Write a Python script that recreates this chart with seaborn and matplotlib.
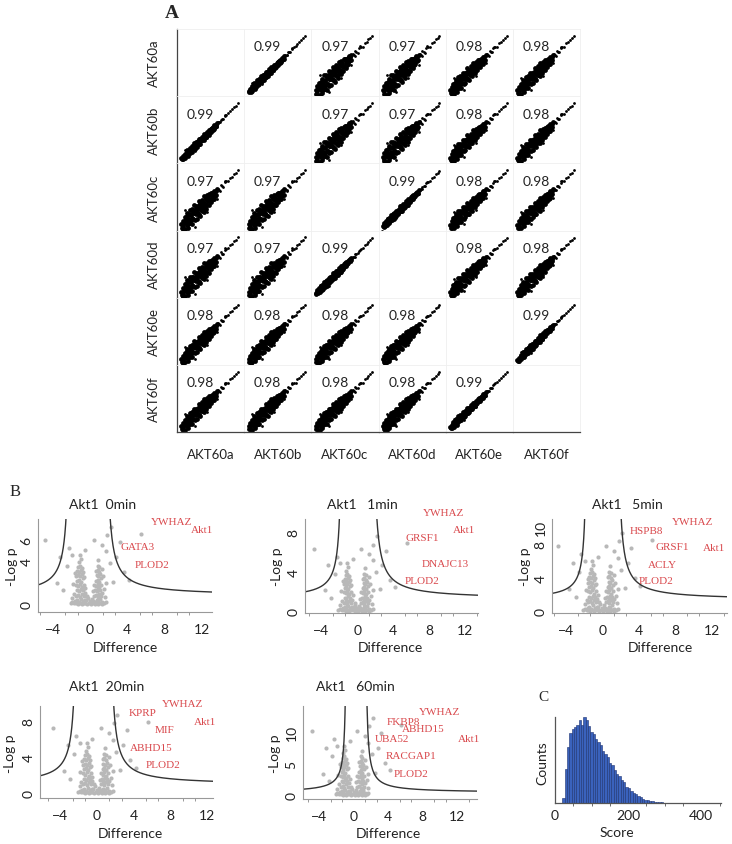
import numpy as np
import pandas as pd
import seaborn as sns
import matplotlib.pyplot as plt
from matplotlib.ticker import AutoMinorLocator

sns.set_style('white')
plt.rcParams['font.family'] = ['Lato', 'DejaVu Sans']

W, H = 732, 845


def box(l, t, r, b):
    return [l / W, 1 - b / H, (r - l) / W, (b - t) / H]


def px(x, y):
    return x / W, 1 - y / H


# ---------------- panel A data ----------------
samples = ['AKT60a', 'AKT60b', 'AKT60c', 'AKT60d', 'AKT60e', 'AKT60f']
corr = [
    [None, 0.99, 0.97, 0.97, 0.98, 0.98],
    [0.99, None, 0.97, 0.97, 0.98, 0.98],
    [0.97, 0.97, None, 0.99, 0.98, 0.98],
    [0.97, 0.97, 0.99, None, 0.98, 0.98],
    [0.98, 0.98, 0.98, 0.98, None, 0.99],
    [0.98, 0.98, 0.98, 0.98, 0.99, None],
]
# replicate intensities: position along the diagonal and offset from it
cloud_x = [0.4, 0.5, 0.6, 0.7, 0.8, 0.9, 1.0, 1.1, 1.2, 1.3, 1.4, 1.5, 1.6, 1.7, 1.8, 1.9,
           2.0, 2.1, 2.2, 2.3, 2.4, 2.5, 2.6, 2.7, 2.8, 2.9, 3.0, 3.1, 3.2, 3.3, 3.4, 3.5,
           3.6, 3.7, 3.8, 3.9, 4.0, 4.1, 4.2, 4.3, 4.4, 4.5, 4.6, 4.7, 4.8, 4.9, 5.0, 5.1,
           5.2, 5.3, 5.4, 5.5, 5.6, 5.7, 5.8, 5.9, 6.0,
           0.6, 0.9, 1.2, 1.5, 1.8, 2.1, 2.4, 2.7, 3.0, 3.3, 3.6, 3.9, 4.2, 4.5, 4.8, 5.1, 5.4,
           1.0, 1.6, 2.2, 2.8, 3.4, 4.0, 4.6, 5.2, 1.3, 1.9, 2.5, 3.1, 3.7, 4.3]
cloud_dev = [0.2, -0.3, 0.5, -0.6, 0.1, 0.7, -0.8, 0.3, -0.4, 0.9, -0.9, 0.5, -0.2, 1.0, -0.7, 0.2,
             0.8, -1.0, 0.4, -0.5, 1.0, -0.8, 0.0, 0.7, -0.9, 0.3, -0.4, 1.0, -0.7, 0.6, -1.0, 0.2,
             0.8, -0.6, 0.4, -0.9, 0.9, -0.3, 0.5, -0.8, 0.7, -0.5, 0.3, -0.7, 0.6, -0.2, 0.5, -0.6,
             0.4, -0.4, 0.3, -0.5, 0.4, -0.3, 0.2, -0.3, 0.3,
             -0.1, 0.3, 0.6, -0.6, 0.4, -0.3, 0.1, -0.2, 0.5, -0.1, -0.4, 0.2, -0.2, 0.1, -0.3, 0.2, 0.0,
             0.0, 0.0, 0.6, 0.1, 0.3, -0.5, 0.0, -0.1, -0.2, -0.4, 0.4, -0.6, 0.0, 0.3]
tail_x = [6.2, 6.4, 6.6, 6.8, 7.0, 7.2, 7.5, 7.8, 8.1, 8.4, 8.7, 9.0, 9.3, 6.5, 7.3,
          0.3, 1.0, 2.5, 4.4, 6.0]
tail_dev = [0.2, -0.1, 0.3, 0.0, -0.2, 0.2, 0.1, -0.1, 0.1, 0.0, 0.1, 0.0, 0.1, -0.3, 0.3,
            -1.4, 1.5, -1.6, -1.3, -0.9]
spread = {0.97: 1.3, 0.98: 1.05, 0.99: 0.5}

# ---------------- panel B data ----------------
vol_x = [-1.6, -1.4, -1.2, -1.0, -0.8, -0.6, -1.5, -1.3, -1.1, -0.9, -0.7, -1.4, -1.2, -1.0, -0.8, -0.6,
         -1.5, -1.3, -1.1, -0.9, -0.7, -1.4, -1.2, -1.0, -0.8, -1.3, -1.1, -0.9, -0.7, -1.4, -1.2, -1.0,
         -1.3, -1.1, -0.9, -1.2, -1.0, -1.5, -0.8, -1.7, -1.9, -1.8, -1.6, -0.5, -1.1,
         0.3, 0.5, 0.7, 0.9, 1.1, 1.3, 0.4, 0.6, 0.8, 1.0, 1.2, 0.5, 0.7, 0.9, 1.1, 1.3,
         0.4, 0.6, 0.8, 1.0, 1.2, 0.6, 0.8, 1.0, 1.2, 0.7, 0.9, 1.1, 0.6, 0.8, 1.0, 0.8, 1.0,
         1.4, 1.5, 1.6, 0.3, 1.7, 0.9, 1.3,
         -2.1, -1.9, -1.7, -1.5, -1.3, -1.1, -0.9, -0.7, -0.5, -0.3, -0.1, 0.1, 0.3, 0.5, 0.7,
         0.9, 1.1, 1.3, 1.5, 1.7, -0.4, -0.2, 0.0, 0.2, -0.3,
         -3.6, -2.5, -4.8, -2.3, -2.9, -3.2, 1.8, 2.2, 1.7, 2.8, 3.6, 2.5, 3.2, 4.2, 2.1,
         -1.9, 1.3, -0.5, 0.4, 5.5]
vol_y = [0.3, 0.4, 0.2, 0.5, 0.3, 0.4, 0.8, 0.9, 0.7, 1.0, 0.8, 1.3, 1.2, 1.4, 1.3, 1.1,
         1.8, 1.7, 1.9, 1.6, 1.8, 2.2, 2.3, 2.1, 2.4, 2.7, 2.6, 2.8, 2.5, 3.1, 3.0, 3.2,
         3.5, 3.6, 3.4, 3.9, 4.2, 2.6, 3.0, 1.0, 0.6, 1.9, 2.9, 1.5, 4.6,
         0.3, 0.2, 0.4, 0.3, 0.5, 0.2, 0.8, 0.9, 0.7, 1.0, 0.8, 1.3, 1.2, 1.4, 1.3, 1.1,
         1.8, 1.7, 1.9, 1.6, 1.8, 2.2, 2.3, 2.1, 2.4, 2.7, 2.6, 2.8, 3.1, 3.2, 3.0, 3.6, 3.5,
         2.6, 1.4, 0.7, 1.2, 2.0, 4.1, 3.3,
         0.1, 0.2, 0.1, 0.1, 0.0, 0.1, 0.0, 0.1, 0.1, 0.0, 0.1, 0.0, 0.1, 0.0, 0.1,
         0.0, 0.1, 0.0, 0.1, 0.2, 0.4, 0.6, 0.3, 0.5, 0.8,
         2.0, 3.6, 6.0, 5.2, 1.3, 4.4, 6.4, 7.2, 4.9, 4.4, 3.0, 2.1, 5.8, 2.3, 3.8,
         4.6, 5.5, 5.0, 6.0, 6.5]

times = ['0min', '1min', '5min', '20min', '60min']
titles = ['Akt1  0min', 'Akt1   1min', 'Akt1   5min', 'Akt1  20min', 'Akt1   60min']
cloud_scale = [1.0, 1.05, 1.3, 1.2, 1.7]
xlims = [(-5.6, 13.1), (-5.8, 13.4), (-5.5, 13.7), (-6.2, 12.6), (-5.9, 14.3)]
ylims = [(-0.7, 7.9), (-0.2, 9.3), (-0.25, 11.0), (-0.55, 9.6), (-0.6, 14.1)]
yticks = [[0, 2, 4, 6], [0, 4, 8], [0, 4, 8, 10], [0, 4, 8], [0, 5, 10]]
# threshold curve: left asymptote, left scale, right asymptote, right scale, offset
curves = [(-2.1, 3.5, 1.6, 4.0, 0.8),
          (-1.6, 3.1, 1.6, 4.7, 1.2),
          (-1.6, 3.1, 1.6, 4.8, 1.3),
          (-2.1, 4.1, 1.3, 4.5, 0.9),
          (-0.8, 2.8, 1.3, 3.2, 0.4)]
hit_names = [['YWHAZ', 'Akt1', 'GATA3', 'PLOD2'],
             ['YWHAZ', 'Akt1', 'GRSF1', 'DNAJC13', 'PLOD2'],
             ['YWHAZ', 'HSPB8', 'GRSF1', 'Akt1', 'ACLY', 'PLOD2'],
             ['YWHAZ', 'KPRP', 'Akt1', 'MIF', 'ABHD15', 'PLOD2'],
             ['YWHAZ', 'FKBP8', 'ABHD15', 'UBA52', 'Akt1', 'RACGAP1', 'PLOD2']]
hit_x = [[8.8, 12.0, 5.05, 6.7],
         [9.6, 11.9, 7.2, 9.8, 7.2],
         [9.9, 4.9, 7.7, 12.3, 6.6, 5.9],
         [9.3, 5.0, 11.7, 7.3, 5.9, 7.2],
         [10.0, 5.7, 8.1, 4.4, 13.4, 6.7, 6.7]]
hit_y = [[7.7, 6.9, 5.4, 3.7],
         [10.0, 8.2, 7.4, 4.8, 3.1],
         [10.7, 9.6, 7.7, 7.6, 5.6, 3.6],
         [9.9, 8.9, 7.9, 7.0, 5.05, 3.2],
         [13.2, 11.7, 10.5, 9.0, 9.0, 6.2, 3.5]]

# ---------------- panel C data ----------------
score_start, score_width = 20, 6.4
score_counts = [60, 400, 650, 810, 860, 880, 910, 960, 910, 1000,
                960, 890, 820, 800, 750, 710, 670, 610, 570, 530,
                470, 440, 380, 340, 310, 270, 240, 190, 170, 140,
                120, 100, 80, 65, 50, 40, 30, 25, 20, 15,
                10, 8, 6, 5, 4, 3, 3, 2, 2, 1]

fig = plt.figure(figsize=(W / 100, H / 100), dpi=100)

# ---------------- panel A ----------------
cell = 67.2
a_left, a_top = 177, 30
for i in range(6):
    for j in range(6):
        l = a_left + j * cell
        t = a_top + i * cell
        ax = fig.add_axes(box(l, t, l + cell, t + cell))
        ax.set_xlim(-0.3, 10.3)
        ax.set_ylim(0, 10.3)
        r = corr[i][j]
        if r is not None:
            cx = np.array(cloud_x)
            cy = 0.3 + 0.95 * cx + np.array(cloud_dev) * spread[r]
            sns.scatterplot(x=cx, y=cy, color='black', s=12, linewidth=0, ax=ax, legend=False)
            tx = np.array(tail_x)
            ty = 0.3 + 0.95 * tx + np.array(tail_dev) * spread[r]
            sns.scatterplot(x=tx, y=ty, color='black', s=4, linewidth=0, ax=ax, legend=False)
            ax.text(0.35, 0.74, f'{r:.2f}', transform=ax.transAxes, ha='center', va='center',
                    fontsize=10, color='#222222')
        ax.set_xlabel('')
        ax.set_ylabel('')
        for s in ax.spines.values():
            s.set_color('#efefef')
            s.set_linewidth(0.6)
        ax.set_xticks([])
        ax.set_yticks([])
        if j == 0:
            ax.spines['left'].set_color('#444444')
            ax.spines['left'].set_linewidth(0.9)
            ax.set_yticks([1.25, 3.75, 6.25, 8.75])
            ax.set_yticklabels([])
            ax.tick_params(axis='y', length=3, width=0.6, color='#444444', direction='out')
            ax.set_ylabel(samples[i], fontsize=9.5, color='#222222', labelpad=6)
        if i == 5:
            ax.spines['bottom'].set_color('#444444')
            ax.spines['bottom'].set_linewidth(0.9)
            ax.set_xticks([0.9, 2.6, 4.3, 6.0, 7.7, 9.4])
            ax.set_xticklabels([])
            ax.tick_params(axis='x', length=3, width=0.6, color='#444444', direction='out')
            ax.set_xlabel(samples[j], fontsize=9.5, color='#222222', labelpad=5)

fig.text(*px(172, 14), 'A', family=['Liberation Serif'], fontsize=14, fontweight='bold',
         ha='center', va='center')

# ---------------- panel B ----------------
rects = [(38, 520, 212, 613), (305, 520, 478, 614), (552, 520, 727, 614),
         (40, 707, 213, 799), (303, 707, 477, 800)]
title_pos = [(103, 505), (362, 505), (627, 505), (107, 687), (355, 687)]
xlab_pos = [(125, 648), (390, 648), (660, 648), (130, 834), (388, 834)]
ylab_pos = [(12, 567), (277, 567), (525, 567), (10, 754), (275, 754)]

for k in range(5):
    l, t, r, b = rects[k]
    ax = fig.add_axes(box(l, t, r, b))
    sns.scatterplot(x=vol_x, y=np.array(vol_y) * cloud_scale[k], color='#b8b8b8', s=9,
                    linewidth=0, ax=ax, legend=False)
    xl, al, xr, ar, b0 = curves[k]
    x0, x1 = xlims[k]
    left_x = np.linspace(x0, xl - 0.02, 300)
    right_x = np.linspace(xr + 0.02, x1, 300)
    sns.lineplot(x=left_x, y=al / (xl - left_x) + b0, color='#333333', lw=1.0,
                 estimator=None, sort=False, ax=ax)
    sns.lineplot(x=right_x, y=ar / (right_x - xr) + b0, color='#333333', lw=1.0,
                 estimator=None, sort=False, ax=ax)
    for name, hx, hy in zip(hit_names[k], hit_x[k], hit_y[k]):
        ax.text(hx, hy, name, color='#d9484c', family=['Liberation Serif'], fontsize=8,
                ha='center', va='center', clip_on=False)
    ax.set_xlim(xlims[k])
    ax.set_ylim(ylims[k])
    ax.set_xticks([-4, 0, 4, 8, 12])
    ax.set_yticks(yticks[k])
    if k == 0:
        ax.set_yticklabels(['0', '', '4', '6'])
    ax.xaxis.set_minor_locator(AutoMinorLocator(3))
    ax.tick_params(axis='both', which='major', length=3, width=0.7, color='#888888',
                   labelsize=10, labelcolor='#222222', pad=1)
    ax.tick_params(axis='x', which='major', pad=5)
    ax.tick_params(axis='x', which='minor', length=2, width=0.6, color='#888888', bottom=True)
    for lab in ax.get_yticklabels():
        lab.set_rotation(90)
        lab.set_va('center')
    sns.despine(ax=ax)
    for s in ['left', 'bottom']:
        ax.spines[s].set_color('#999999')
        ax.spines[s].set_linewidth(0.8)
    ax.set_xlabel('')
    ax.set_ylabel('')
    fig.text(*px(*title_pos[k]), titles[k], fontsize=10, color='#222222', ha='center', va='center')
    fig.text(*px(*xlab_pos[k]), 'Difference', fontsize=10, color='#222222', ha='center', va='center')
    fig.text(*px(*ylab_pos[k]), '-Log p', fontsize=10, color='#222222', ha='center', va='center',
             rotation=90)

fig.text(*px(15, 492), 'B', family=['Liberation Serif'], fontsize=12, ha='center', va='center')

# ---------------- panel C ----------------
axc = fig.add_axes(box(555, 718, 721, 804))
n_bins = len(score_counts)
hist_df = pd.DataFrame({
    'score': [score_start + score_width * (k + 0.5) for k in range(n_bins)],
    'count': score_counts,
})
sns.histplot(data=hist_df, x='score', weights='count', binwidth=score_width,
             binrange=(score_start, score_start + score_width * n_bins),
             color='#3a62bd', alpha=1, edgecolor='#1c3170', linewidth=0.4, ax=axc)
axc.set_xlim(0, 454)
axc.set_ylim(0, 1000)
axc.set_xticks([0, 200, 400])
axc.xaxis.set_minor_locator(AutoMinorLocator(4))
axc.set_yticks([])
axc.tick_params(axis='x', which='major', length=3, width=0.7, color='#555555',
                labelsize=10, labelcolor='#222222', pad=1)
axc.tick_params(axis='x', which='minor', length=2, width=0.6, color='#555555', bottom=True)
sns.despine(ax=axc)
for s in ['left', 'bottom']:
    axc.spines[s].set_color('#555555')
    axc.spines[s].set_linewidth(0.9)
axc.set_xlabel('')
axc.set_ylabel('')
fig.text(*px(617, 833), 'Score', fontsize=10, color='#222222', ha='center', va='center')
fig.text(*px(542, 763), 'Counts', fontsize=10, color='#222222', ha='center', va='center', rotation=90)
fig.text(*px(543, 698), 'C', family=['Liberation Serif'], fontsize=11, ha='center', va='center')

fig.savefig('out.png', dpi=100)
